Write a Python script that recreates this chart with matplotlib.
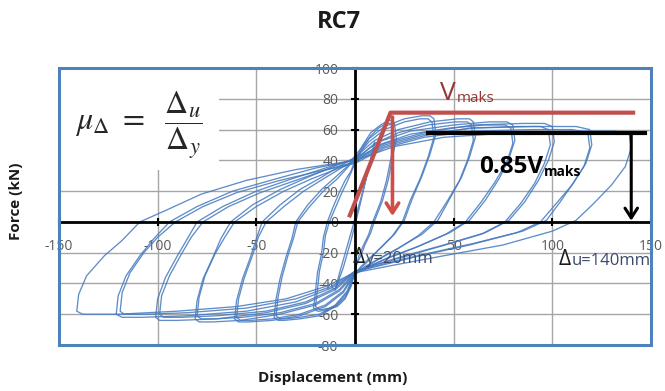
import matplotlib
matplotlib.use("Agg")
import matplotlib.pyplot as plt
from matplotlib.patches import Rectangle

plt.rcParams["font.family"] = ["Open Sans", "DejaVu Sans"]
plt.rcParams["mathtext.fontset"] = "stix"

# ---- axis ticks ----
x_ticks = [-150, -100, -50, 0, 50, 100, 150]
x_tick_labels = ["-150", "-100", "-50", "", "50", "100", "150"]
y_ticks = [-80, -60, -40, -20, 0, 20, 40, 60, 80, 100]
y_tick_labels = ["-80", "-60", "-40", "-20", "0", "20", "40", "60", "80", "100"]

# ---- hysteresis loops (displacement mm, force kN) ----
loop140_x = [0, 20, 45, 80, 110, 132, 139, 140, 137, 130, 121, 112, 100, 75, 45, 20, 0, -15, -35, -60, -90, -120, -138, -141, -140, -136, -127, -118, -109, -95, -78, -55, -30, 0]
loop140_y = [40, 49, 55, 58, 59, 59, 57, 48, 36, 24, 12, 1, -6, -15, -22, -28, -33, -42, -50, -55, -58, -60, -60, -58, -47, -35, -22, -12, 0, 8, 18, 27, 34, 40]

loop120a_x = [0, 15, 35, 60, 90, 112, 119, 120, 117, 111, 104, 97, 85, 60, 35, 15, 0, -12, -30, -55, -85, -108, -118, -121, -120, -116, -109, -102, -94, -80, -62, -40, -20, 0]
loop120a_y = [40, 50, 57, 61, 62, 62, 60, 50, 38, 26, 13, 1, -6, -14, -21, -27, -33, -43, -52, -58, -61, -62, -62, -60, -48, -35, -22, -11, 0, 10, 20, 28, 35, 40]
loop120b_x = [0, 15, 35, 60, 90, 110, 118, 119, 116, 110, 102, 94, 82, 58, 33, 14, 0, -12, -30, -55, -85, -106, -117, -119, -118, -114, -107, -100, -91, -77, -60, -38, -18, 0]
loop120b_y = [38, 48, 55, 59, 60, 60, 58, 48, 36, 24, 12, 0, -7, -15, -22, -28, -32, -42, -50, -56, -59, -60, -60, -58, -46, -33, -20, -10, 0, 10, 19, 27, 33, 38]

loop100a_x = [0, 15, 35, 60, 85, 96, 100, 101, 98, 93, 86, 78, 66, 45, 25, 10, 0, -10, -25, -45, -70, -90, -99, -101, -100, -96, -90, -85, -80, -67, -50, -32, -15, 0]
loop100a_y = [41, 51, 58, 63, 64, 64, 62, 52, 40, 27, 13, 1, -7, -15, -22, -28, -33, -44, -53, -59, -63, -64, -64, -62, -50, -36, -22, -11, 0, 10, 20, 28, 35, 41]
loop100b_x = [0, 15, 35, 58, 82, 94, 98, 99, 96, 91, 84, 76, 64, 43, 24, 10, 0, -10, -25, -45, -70, -88, -97, -99, -98, -94, -88, -83, -77, -64, -48, -30, -14, 0]
loop100b_y = [39, 49, 56, 61, 62, 62, 60, 50, 38, 25, 12, 0, -8, -16, -23, -28, -32, -43, -52, -58, -61, -62, -62, -60, -48, -35, -21, -10, 0, 10, 19, 27, 34, 39]

loop80a_x = [0, 12, 28, 50, 68, 77, 80, 81, 78, 73, 66, 58, 48, 32, 17, 7, 0, -8, -20, -38, -58, -72, -79, -81, -80, -77, -72, -68, -63, -52, -38, -24, -11, 0]
loop80a_y = [41, 52, 59, 63, 65, 65, 63, 53, 41, 28, 14, 1, -7, -16, -23, -29, -34, -45, -54, -60, -64, -65, -65, -63, -51, -37, -23, -11, 0, 11, 21, 29, 36, 41]
loop80b_x = [0, 12, 28, 48, 66, 76, 79, 80, 77, 71, 64, 56, 46, 30, 16, 7, 0, -8, -20, -38, -57, -71, -78, -80, -79, -76, -71, -66, -61, -50, -36, -22, -10, 0]
loop80b_y = [39, 50, 57, 61, 63, 63, 61, 51, 39, 26, 13, 0, -8, -17, -24, -29, -33, -44, -53, -59, -62, -63, -63, -61, -49, -35, -21, -10, 0, 10, 20, 28, 34, 39]

loop60a_x = [0, 10, 22, 38, 52, 58, 60, 61, 58, 54, 48, 42, 34, 22, 12, 5, 0, -6, -15, -28, -42, -54, -59, -61, -60, -57, -53, -50, -47, -38, -28, -17, -8, 0]
loop60a_y = [42, 53, 60, 65, 67, 67, 65, 55, 42, 29, 15, 1, -8, -17, -24, -29, -34, -46, -55, -61, -64, -65, -65, -63, -51, -37, -23, -11, 0, 11, 21, 29, 36, 42]
loop60b_x = [0, 10, 22, 37, 51, 57, 59, 60, 57, 53, 47, 40, 32, 21, 11, 5, 0, -6, -15, -28, -42, -53, -58, -60, -59, -56, -52, -49, -45, -36, -26, -16, -7, 0]
loop60b_y = [40, 51, 58, 63, 65, 65, 63, 53, 40, 27, 14, 0, -9, -18, -25, -30, -33, -45, -54, -60, -63, -64, -64, -62, -50, -36, -22, -10, 0, 10, 20, 28, 35, 40]

loop40a_x = [0, 7, 15, 25, 34, 38, 40, 41, 38, 34, 29, 25, 20, 13, 7, 3, 0, -4, -10, -18, -28, -36, -39, -41, -40, -38, -35, -32, -30, -24, -17, -10, -4, 0]
loop40a_y = [43, 54, 62, 67, 69, 69, 67, 57, 44, 30, 15, 1, -8, -17, -24, -29, -34, -46, -55, -61, -63, -64, -64, -62, -50, -37, -23, -11, 0, 11, 21, 29, 36, 43]
loop40b_x = [0, 7, 15, 25, 33, 37, 39, 40, 37, 33, 28, 24, 19, 12, 7, 3, 0, -4, -10, -18, -28, -35, -38, -40, -39, -37, -34, -31, -29, -23, -16, -9, -4, 0]
loop40b_y = [41, 52, 60, 65, 67, 67, 65, 55, 42, 28, 14, 0, -9, -18, -25, -30, -33, -45, -54, -60, -62, -63, -63, -61, -49, -36, -22, -10, 0, 10, 20, 28, 35, 41]

loop20a_x = [0, 4, 8, 13, 17, 19, 20, 21, 19, 17, 14, 10, 8, 5, 3, 1, 0, -2, -5, -9, -14, -18, -19, -21, -20, -19, -17, -16, -14, -11, -8, -5, -2, 0]
loop20a_y = [40, 50, 58, 63, 66, 66, 64, 54, 42, 28, 14, 1, -7, -15, -22, -27, -32, -42, -50, -55, -57, -58, -58, -56, -45, -33, -21, -10, 0, 10, 19, 27, 33, 40]
loop20b_x = [0, 4, 8, 12, 16, 18, 19, 20, 18, 16, 13, 9, 7, 4, 2, 1, 0, -2, -5, -9, -13, -17, -18, -20, -19, -18, -16, -15, -13, -10, -7, -4, -2, 0]
loop20b_y = [38, 48, 56, 61, 64, 64, 62, 52, 40, 27, 13, 0, -8, -16, -22, -27, -31, -41, -49, -54, -56, -57, -57, -55, -44, -32, -20, -9, 0, 9, 18, 26, 32, 38]

loop10_x = [-10, -6, -2, 2, 6, 10, 8, 4, 0, -4, -8, -10]
loop10_y = [-44, -30, -12, 8, 30, 52, 40, 20, 2, -16, -34, -44]

loops = [
    (loop140_x, loop140_y), (loop120a_x, loop120a_y), (loop120b_x, loop120b_y),
    (loop100a_x, loop100a_y), (loop100b_x, loop100b_y), (loop80a_x, loop80a_y),
    (loop80b_x, loop80b_y), (loop60a_x, loop60a_y), (loop60b_x, loop60b_y),
    (loop40a_x, loop40a_y), (loop40b_x, loop40b_y), (loop20a_x, loop20a_y),
    (loop20b_x, loop20b_y), (loop10_x, loop10_y),
]

# ---- idealised bilinear envelope and ductility markers ----
bilinear_x = [-3, 18, 142]
bilinear_y = [3, 71, 71]
v_maks = 71
v_085_line_x = [37, 147]
v_085 = 58
delta_y = 20
delta_u = 140

fig = plt.figure(figsize=(6.65, 3.91), dpi=100)
ax = fig.add_axes([0.0887, 0.1176, 0.8902, 0.7084])
ax.set_xlim(-150, 150)
ax.set_ylim(-80, 100)

# gridlines
ax.set_xticks(x_ticks)
ax.set_xticklabels(x_tick_labels)
ax.set_yticks(y_ticks)
ax.set_yticklabels(y_tick_labels)
ax.grid(True, color="#a6a6a6", linewidth=1.0)
ax.set_axisbelow(True)

# axes crossing at the origin
for side in ("top", "right"):
    ax.spines[side].set_visible(False)
for side in ("left", "bottom"):
    ax.spines[side].set_position(("data", 0))
    ax.spines[side].set_color("black")
    ax.spines[side].set_linewidth(2.0)
    ax.spines[side].set_zorder(3)
ax.tick_params(axis="both", direction="inout", length=6, width=1.5, color="black",
               labelsize=10, labelcolor="#595959")
ax.tick_params(axis="x", pad=9)
ax.tick_params(axis="y", pad=9)

# plot-area border
ax.add_patch(Rectangle((0, 0), 1, 1, transform=ax.transAxes, fill=False,
                       edgecolor="#4f81bd", linewidth=2.2, clip_on=False, zorder=4))

# ductility formula on a white panel
ax.add_patch(Rectangle((-150, 34), 81, 66, facecolor="white", edgecolor="none", zorder=1.5))
ax.text(-142, 63, r"$\mu_{\Delta}\ =\ \ \dfrac{\Delta_u}{\Delta_y}$", fontsize=23,
        color="#262626", va="center", ha="left", zorder=5)

# hysteresis curves
for lx, ly in loops:
    ax.plot(lx, ly, color="#4479bf", linewidth=0.95, alpha=0.85, zorder=2,
            solid_joinstyle="round")

# bilinear idealisation
ax.plot(bilinear_x, bilinear_y, color="#c0504d", linewidth=3.0, zorder=6,
        solid_capstyle="butt")
ax.annotate("", xy=(delta_y - 1, 2), xytext=(delta_y - 1, v_maks - 1),
            arrowprops=dict(arrowstyle="->,head_length=0.7,head_width=0.45",
                            color="#cf4f48", linewidth=2.6), zorder=6)

# 0.85 Vmaks level and ultimate displacement
ax.plot(v_085_line_x, [v_085, v_085], color="black", linewidth=3.0, zorder=6)
ax.annotate("", xy=(delta_u, -1), xytext=(delta_u, v_085),
            arrowprops=dict(arrowstyle="->,head_length=0.7,head_width=0.45",
                            color="black", linewidth=2.2), zorder=6)

# labels on the chart
t_v = ax.text(43, 79, "V", fontsize=19, color="#943634", va="baseline", ha="left", zorder=7)
ax.annotate("maks", xy=(1, 0), xycoords=t_v, xytext=(1, 0), textcoords="offset points",
            fontsize=11, color="#943634", va="bottom", ha="left", zorder=7)
t_085 = ax.text(63, 32, "0.85V", fontsize=17.5, fontweight="bold", color="black",
                va="baseline", ha="left", zorder=7)
ax.annotate("maks", xy=(1, 0), xycoords=t_085, xytext=(0, 0), textcoords="offset points",
            fontsize=10, fontweight="bold", color="black", va="bottom", ha="left", zorder=7)
ax.text(-1, -27, "Δ", fontsize=15, color="#1a1a1a", va="baseline", ha="left", zorder=7)
ax.text(5, -27, "y=20mm", fontsize=12, color="#3b4a6b", va="baseline", ha="left", zorder=7)
ax.text(103, -28, "Δ", fontsize=15, color="#1a1a1a", va="baseline", ha="left", zorder=7,
        clip_on=False)
ax.text(110, -28, "u=140mm", fontsize=12, color="#3b4a6b", va="baseline", ha="left",
        zorder=7, clip_on=False)

fig.text(0.51, 0.944, "RC7", fontsize=17, fontweight="bold", ha="center", va="center",
         color="#1a1a1a")
fig.text(0.50, 0.033, "Displacement (mm)", fontsize=11, fontweight="bold", ha="center",
         va="center", color="#1a1a1a")
fig.text(0.024, 0.485, "Force (kN)", fontsize=11, fontweight="bold", ha="center",
         va="center", rotation=90, color="#1a1a1a")

fig.savefig("out.png", dpi=100)
